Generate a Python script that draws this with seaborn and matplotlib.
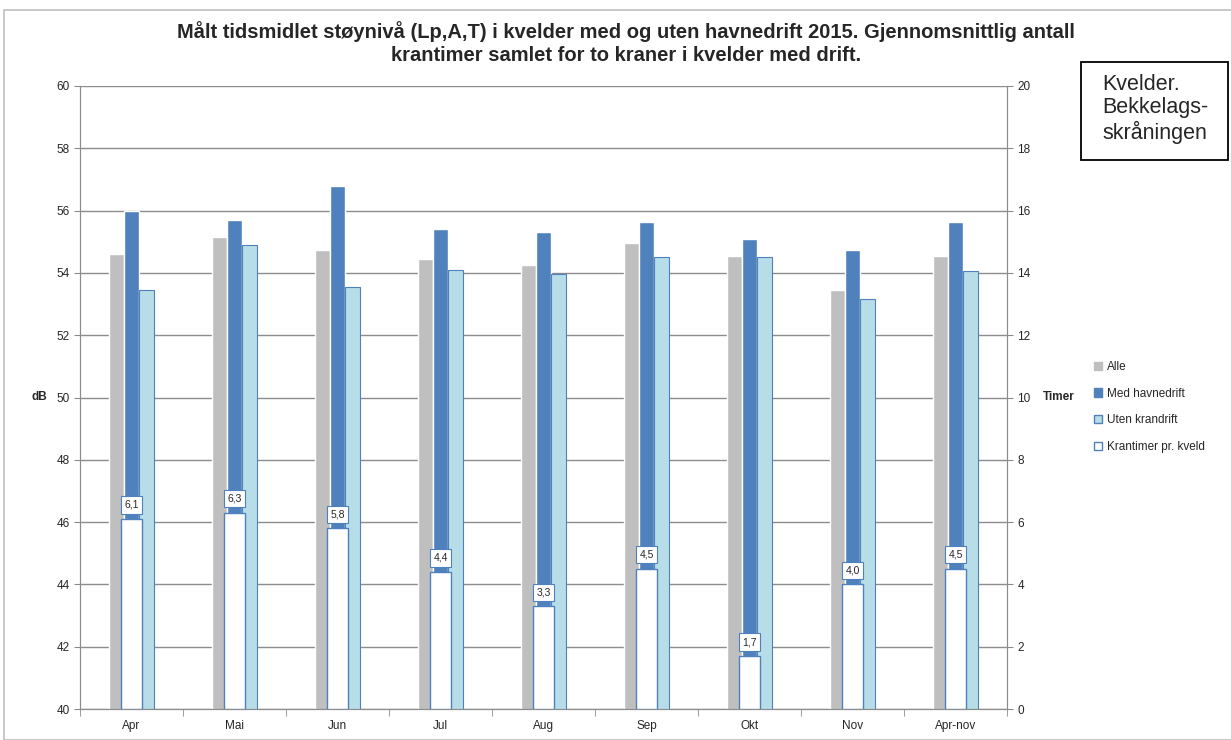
import numpy as np
import pandas as pd
import matplotlib
matplotlib.use('Agg')
import matplotlib.pyplot as plt
import seaborn as sns
from matplotlib.patches import Patch, Rectangle

# Data
months = ['Apr', 'Mai', 'Jun', 'Jul', 'Aug', 'Sep', 'Okt', 'Nov', 'Apr-nov']
alle = [54.6, 55.15, 54.75, 54.45, 54.25, 54.95, 54.55, 53.45, 54.55]
med_havnedrift = [56.0, 55.7, 56.8, 55.4, 55.3, 55.65, 55.1, 54.75, 55.65]
uten_krandrift = [53.45, 54.9, 53.55, 54.1, 53.97, 54.5, 54.5, 53.15, 54.05]
krantimer = [6.1, 6.3, 5.8, 4.4, 3.3, 4.5, 1.7, 4.0, 4.5]
series_names = ['Alle', 'Med havnedrift', 'Uten krandrift']

sns.set_style('white')
plt.rcParams['font.family'] = ['Liberation Sans', 'DejaVu Sans']

gray = '#BFBFBF'
dblue = '#4F81BD'
lblue = '#B7DDE8'
gridc = '#8C8C8C'

df = pd.DataFrame({
    'Måned': months * 3,
    'dB': alle + med_havnedrift + uten_krandrift,
    'Serie': [s for s in series_names for _ in months],
})
df_t = pd.DataFrame({'Måned': months, 'Timer': krantimer})

fig = plt.figure(figsize=(12.31, 7.4), dpi=100)
ax = fig.add_axes([80 / 1231, 31 / 740, 927 / 1231, 623 / 740])

sns.barplot(data=df, x='Måned', y='dB', hue='Serie', order=months,
            hue_order=series_names, palette=[gray, dblue, lblue],
            width=0.43, gap=0, saturation=1, ax=ax, legend=False, zorder=2)
# light blue bars get a thin blue outline
for p in ax.patches[2 * len(months):3 * len(months)]:
    p.set_edgecolor(dblue)
    p.set_linewidth(0.8)

ax.set_ylim(40, 60)
ax.set_xlim(-0.5, len(months) - 0.5)
ax.set_yticks(np.arange(40, 61, 2))
ax.yaxis.grid(True, color=gridc, linewidth=1)
ax.set_axisbelow(True)
ax.set_xlabel('')
ax.set_ylabel('dB', rotation=0, fontsize=8.5, fontweight='bold', labelpad=12, va='center')
ax.tick_params(axis='y', labelsize=8.5, length=4, color=gridc, direction='out', left=True)
ax.tick_params(axis='x', which='major', labelsize=8.5, length=0, pad=8)
ax.set_xticks(np.arange(-0.5, len(months), 1), minor=True)
ax.tick_params(axis='x', which='minor', length=5, color=gridc, direction='out', bottom=True)
for s in ['left', 'bottom', 'right']:
    ax.spines[s].set_color(gridc)
ax.spines['top'].set_visible(False)

ax2 = ax.twinx()
sns.barplot(data=df_t, x='Måned', y='Timer', order=months, color='white',
            width=0.21, saturation=1, edgecolor=dblue, linewidth=1, ax=ax2, zorder=3)
ax2.set_ylim(0, 20)
ax2.set_xlim(-0.5, len(months) - 0.5)
ax2.set_yticks(np.arange(0, 21, 2))
ax2.set_ylabel('Timer', rotation=0, fontsize=8.5, fontweight='bold', labelpad=20, va='center')
ax2.tick_params(axis='y', labelsize=8.5, length=4, color=gridc, direction='out', right=True)
for s in ['left', 'bottom', 'right']:
    ax2.spines[s].set_color(gridc)
ax2.spines['top'].set_visible(False)
ax2.set_xlabel('')

for i, v in enumerate(krantimer):
    ax2.text(i, v + 0.45, f'{v:.1f}'.replace('.', ','), ha='center', va='center',
             fontsize=7.5, zorder=5,
             bbox=dict(boxstyle='square,pad=0.35', facecolor='white',
                       edgecolor=dblue, linewidth=0.8))

fig.text(626 / 1231, 1 - 43 / 740,
         'Målt tidsmidlet støynivå (Lp,A,T) i kvelder med og uten havnedrift 2015. Gjennomsnittlig antall\n'
         'krantimer samlet for to kraner i kvelder med drift.',
         ha='center', va='center', fontsize=14.5, fontweight='bold', linespacing=1.3)

# text box at top right
fig.patches.append(Rectangle((1081 / 1231, 1 - 160 / 740), 147 / 1231, 98 / 740,
                             transform=fig.transFigure, fill=False,
                             edgecolor='black', linewidth=1.3))
fig.text(1102 / 1231, 1 - 109 / 740, 'Kvelder.\nBekkelags-\nskråningen',
         ha='left', va='center', fontsize=15.5, linespacing=1.15)

# outer chart frame
fig.patches.append(Rectangle((4 / 1231, 0), 1240 / 1231, 1 - 10 / 740,
                             transform=fig.transFigure, fill=False,
                             edgecolor='#BFBFBF', linewidth=1.2))

handles = [Patch(facecolor=gray, edgecolor=gray),
           Patch(facecolor=dblue, edgecolor=dblue),
           Patch(facecolor=lblue, edgecolor=dblue),
           Patch(facecolor='white', edgecolor=dblue)]
fig.legend(handles, series_names + ['Krantimer pr. kveld'],
           loc='center left', bbox_to_anchor=(1083 / 1231, 1 - 407 / 740),
           frameon=False, fontsize=8.5, handlelength=0.7, handleheight=0.7,
           handletextpad=0.4, labelspacing=1.25)

fig.savefig('out.png', dpi=100)
